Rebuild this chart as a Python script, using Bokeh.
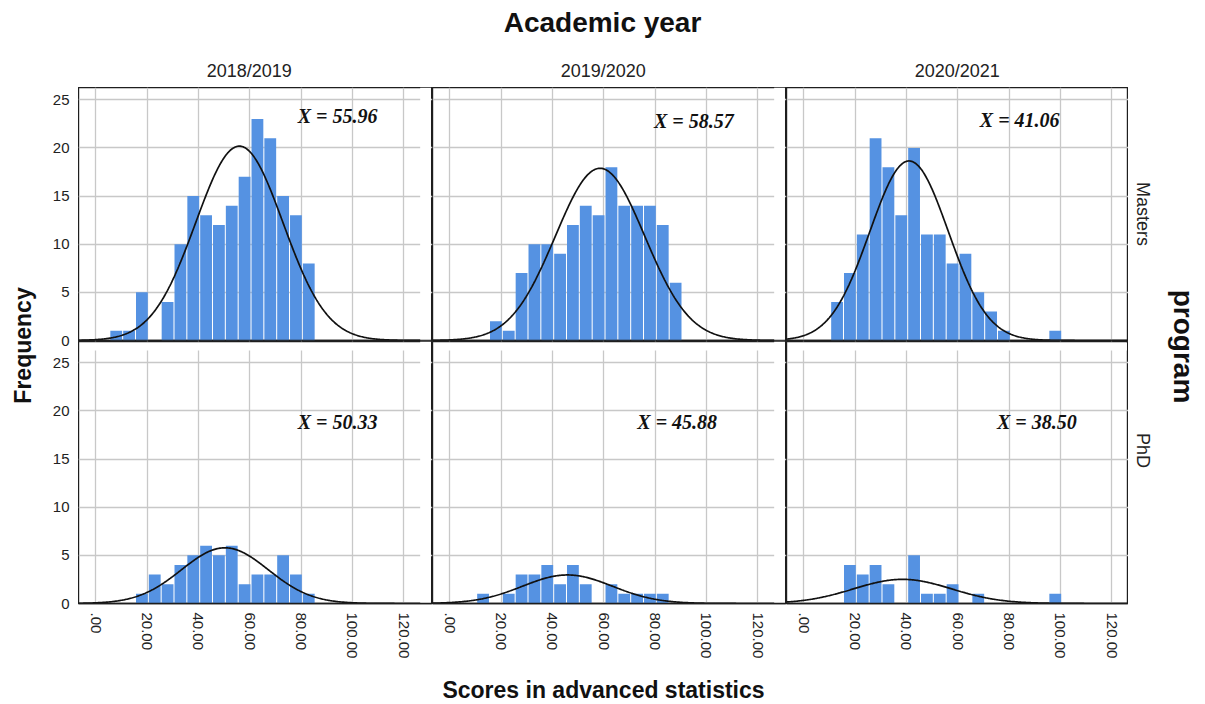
import math
import numpy as np
from bokeh.plotting import figure
from bokeh.layouts import column, row
from bokeh.models import Range1d, FixedTicker, BoxAnnotation, Span, CustomJSTickFormatter
from bokeh.core.properties import value
from bokeh.embed import file_html
from bokeh.resources import INLINE

# ---------------- data ----------------
years = ["2018/2019", "2019/2020", "2020/2021"]
programs = ["Masters", "PhD"]
col_title = "Academic year"
row_title = "program"
x_title = "Scores in advanced statistics"
y_title = "Frequency"

bin_width = 5

masters_1819_first_bin = 5.5
masters_1819_counts = [1, 1, 5, 0, 4, 10, 15, 13, 12, 14, 17, 23, 21, 15, 13, 8]
masters_1920_first_bin = 15.5
masters_1920_counts = [2, 1, 7, 10, 10, 9, 12, 14, 13, 18, 14, 14, 14, 12, 6]
masters_2021_first_bin = 10.5
masters_2021_counts = [4, 7, 11, 21, 18, 13, 20, 11, 11, 8, 9, 5, 3, 1, 0, 0, 0, 1]

phd_1819_first_bin = 15.5
phd_1819_counts = [1, 3, 2, 4, 5, 6, 5, 6, 2, 3, 3, 5, 3, 1]
phd_1920_first_bin = 10.5
phd_1920_counts = [1, 0, 1, 3, 3, 4, 2, 4, 2, 0, 2, 1, 1, 1, 1]
phd_2021_first_bin = 15.5
phd_2021_counts = [4, 3, 4, 2, 0, 5, 1, 1, 2, 0, 1, 0, 0, 0, 0, 0, 1]

masters_means = [55.96, 58.57, 41.06]
masters_sds = [17.0, 17.4, 15.3]
phd_means = [50.33, 45.88, 38.50]
phd_sds = [16.9, 17.5, 19.1]

masters_mean_labels = ["X = 55.96", "X = 58.57", "X = 41.06"]
phd_mean_labels = ["X = 50.33", "X  = 45.88", "X = 38.50"]

x_ticks = [0, 20, 40, 60, 80, 100, 120]
x_tick_labels = [".00", "20.00", "40.00", "60.00", "80.00", "100.00", "120.00"]
y_ticks = [0, 5, 10, 15, 20, 25]

# ---------------- styling / geometry ----------------
FONT = "Liberation Sans"
LABEL_FONT = "Liberation Serif"
BAR = "#5592e2"
GRID = "#c8c8c8"
FRAME = "#1e1e1e"
TXT = "#222222"

X_START = -6.7
X_DATA_END = 126.4
PX_PER_X = 2.567
PX_PER_Y = 9.63
COL_FRAME_W = [354, 354, 342]
HEADER_H = 87
ROW1_FRAME = 253
ROW1_PAD = 1
ROW2_FRAME = 262
ROW2_BOTTOM = 69
FOOTER_H = 30
LEFT_W = 78
RIGHT_W = 72
TOTAL_W = LEFT_W + sum(COL_FRAME_W) + RIGHT_W
COL_LEFT = [78, 432, 786]

masters_label_pos = [(78.7, 23.3), (79.6, 22.8), (68.6, 22.9)]
phd_label_pos = [(78.7, 18.8), (73.1, 18.8), (75.3, 18.8)]

panel_data = {
    (0, 0): (masters_1819_first_bin, masters_1819_counts),
    (0, 1): (masters_1920_first_bin, masters_1920_counts),
    (0, 2): (masters_2021_first_bin, masters_2021_counts),
    (1, 0): (phd_1819_first_bin, phd_1819_counts),
    (1, 1): (phd_1920_first_bin, phd_1920_counts),
    (1, 2): (phd_2021_first_bin, phd_2021_counts),
}
panel_stats = {
    0: (masters_means, masters_sds, masters_mean_labels, masters_label_pos),
    1: (phd_means, phd_sds, phd_mean_labels, phd_label_pos),
}


def make_panel(r, c):
    first_bin, counts = panel_data[(r, c)]
    means, sds, labels, lpos = panel_stats[r]
    fw = COL_FRAME_W[c]
    fh = ROW2_FRAME if r == 1 else ROW1_FRAME
    bb = ROW2_BOTTOM if r == 1 else ROW1_PAD
    x_end = X_START + fw / PX_PER_X
    y_end = fh / PX_PER_Y
    p = figure(width=fw, height=fh + bb,
               x_range=Range1d(X_START, x_end), y_range=Range1d(0, y_end),
               min_border=0, min_border_bottom=bb,
               x_axis_location="below" if r == 1 else None,
               y_axis_location=None,
               toolbar_location=None, output_backend="svg",
               outline_line_color=FRAME, outline_line_width=1.4,
               background_fill_color="white", border_fill_color="white")
    p.xgrid.ticker = FixedTicker(ticks=x_ticks)
    p.ygrid.ticker = FixedTicker(ticks=y_ticks)
    p.grid.grid_line_color = GRID
    p.grid.grid_line_width = 1.3

    # hide grid outside the data area (gaps between panels)
    if c < 2:
        p.add_layout(BoxAnnotation(left=X_DATA_END, right=x_end - 0.6,
                                   fill_color="white", fill_alpha=1.0,
                                   line_color=None, level="underlay"))
    if r == 1:
        p.add_layout(BoxAnnotation(bottom=(fh - (350 - 341)) / PX_PER_Y,
                                   top=y_end - 0.16,
                                   left=X_START + 0.6, right=x_end - 0.6,
                                   fill_color="white", fill_alpha=1.0,
                                   line_color=None, level="underlay"))

    gap = 0.4
    lefts = [first_bin + i * bin_width + gap / 2 for i in range(len(counts))]
    rights = [first_bin + (i + 1) * bin_width - gap / 2 for i in range(len(counts))]
    keep = [i for i, v in enumerate(counts) if v > 0]
    p.quad(left=[lefts[i] for i in keep], right=[rights[i] for i in keep],
           top=[counts[i] for i in keep], bottom=0,
           fill_color=BAR, line_color=None)

    n = sum(counts)
    mu, sd = means[c], sds[c]
    xs = np.linspace(X_START, X_DATA_END, 400)
    ys = n * bin_width * np.exp(-0.5 * ((xs - mu) / sd) ** 2) / (sd * math.sqrt(2 * math.pi))
    p.line(xs, ys, line_color="#111111", line_width=1.7)

    lx, ly = lpos[c]
    p.text(x=[lx], y=[ly], text=[labels[c]], text_font=value(LABEL_FONT),
           text_font_size=value("20px"), text_font_style="bold italic",
           text_align="left", text_baseline="middle", text_color="#111111")

    if r == 0:
        p.add_layout(Span(location=0, dimension="width", line_color=FRAME, line_width=1.4))
    else:
        ax = p.xaxis[0]
        ax.ticker = FixedTicker(ticks=x_ticks)
        ax.major_label_overrides = dict(zip(x_ticks, x_tick_labels))
        ax.major_label_orientation = -math.pi / 2
        ax.major_label_text_font = FONT
        ax.major_label_text_font_size = "15px"
        ax.major_label_text_color = TXT
        ax.major_label_standoff = 9
        ax.major_tick_line_color = None
        ax.minor_tick_line_color = None
        ax.major_tick_out = 0
        ax.major_tick_in = 0
        ax.axis_line_color = FRAME
        ax.axis_line_width = 1.4
    return p


def deco(w, h, x0, y0, bottom_border=0):
    frame_h = h - bottom_border
    p = figure(width=w, height=h, x_range=Range1d(x0, x0 + w),
               y_range=Range1d(-(y0 + frame_h), -y0), min_border=0,
               min_border_bottom=bottom_border,
               outline_line_color=None, x_axis_location=None, y_axis_location=None,
               toolbar_location=None, output_backend="svg",
               background_fill_color="white", border_fill_color="white")
    p.grid.visible = False
    return p


panels = [[make_panel(r, c) for c in range(3)] for r in range(2)]

# header
header = deco(TOTAL_W, HEADER_H, 0, 0)
header.text(x=[602], y=[-22], text=[col_title], text_font=value(FONT),
            text_font_size=value("28px"), text_font_style="bold",
            text_align="center", text_baseline="middle", text_color="#111111")
col_centers = [COL_LEFT[c] + (X_DATA_END - X_START) / 2 * PX_PER_X for c in range(3)]
header.text(x=col_centers, y=[-70] * 3, text=years, text_font=value(FONT),
            text_font_size=value("18px"), text_align="center",
            text_baseline="middle", text_color=TXT)

# left: frequency axis for both rows
total_frame_h = ROW1_FRAME + ROW1_PAD + ROW2_FRAME
top_offset = (ROW2_FRAME + ROW1_PAD) / PX_PER_Y
left = figure(width=LEFT_W, height=total_frame_h + ROW2_BOTTOM,
              x_range=Range1d(0, 1), y_range=Range1d(0, total_frame_h / PX_PER_Y),
              min_border=0, min_border_left=LEFT_W - 1, min_border_bottom=ROW2_BOTTOM,
              outline_line_color=None, x_axis_location=None, y_axis_location="left",
              toolbar_location=None, output_backend="svg",
              background_fill_color="white", border_fill_color="white")
left.grid.visible = False
ya = left.yaxis[0]
ya.ticker = FixedTicker(ticks=y_ticks + [v + top_offset for v in y_ticks])
ya.formatter = CustomJSTickFormatter(args=dict(off=top_offset),
                                     code="const v = tick > off - 0.5 ? tick - off : tick; return Math.round(v).toString();")
ya.major_label_text_font = FONT
ya.major_label_text_font_size = "15px"
ya.major_label_text_color = TXT
ya.major_label_standoff = 8
ya.major_tick_line_color = None
ya.minor_tick_line_color = None
ya.major_tick_out = 0
ya.major_tick_in = 0
ya.axis_line_color = None
ya.axis_label = y_title
ya.axis_label_text_font = FONT
ya.axis_label_text_font_size = "23px"
ya.axis_label_text_font_style = "bold"
ya.axis_label_text_color = "#111111"
ya.axis_label_standoff = 14

# right: strip labels (frame aligned with the panel frames)
right = deco(RIGHT_W, total_frame_h + ROW2_BOTTOM, 1128, 87, bottom_border=ROW2_BOTTOM)
right.text(x=[1142, 1142], y=[-213.5, -450], text=programs, text_font=value(FONT),
           text_font_size=value("18px"), text_align="center",
           text_baseline="alphabetic", angle=-math.pi / 2, text_color=TXT)
right.text(x=[1182.5], y=[-346], text=[row_title], text_font=value(FONT),
           text_font_size=value("28px"), text_font_style="bold", text_align="center",
           text_baseline="alphabetic", angle=-math.pi / 2, text_color="#111111")

# footer
footer = deco(TOTAL_W, FOOTER_H, 0, 672)
footer.text(x=[603], y=[-689], text=[x_title], text_font=value(FONT),
            text_font_size=value("23px"), text_font_style="bold",
            text_align="center", text_baseline="middle", text_color="#111111")

grid_block = column(row(*panels[0]), row(*panels[1]))
layout = column(header, row(left, grid_block, right), footer)

open("out.html", "w").write(file_html(layout, INLINE))
